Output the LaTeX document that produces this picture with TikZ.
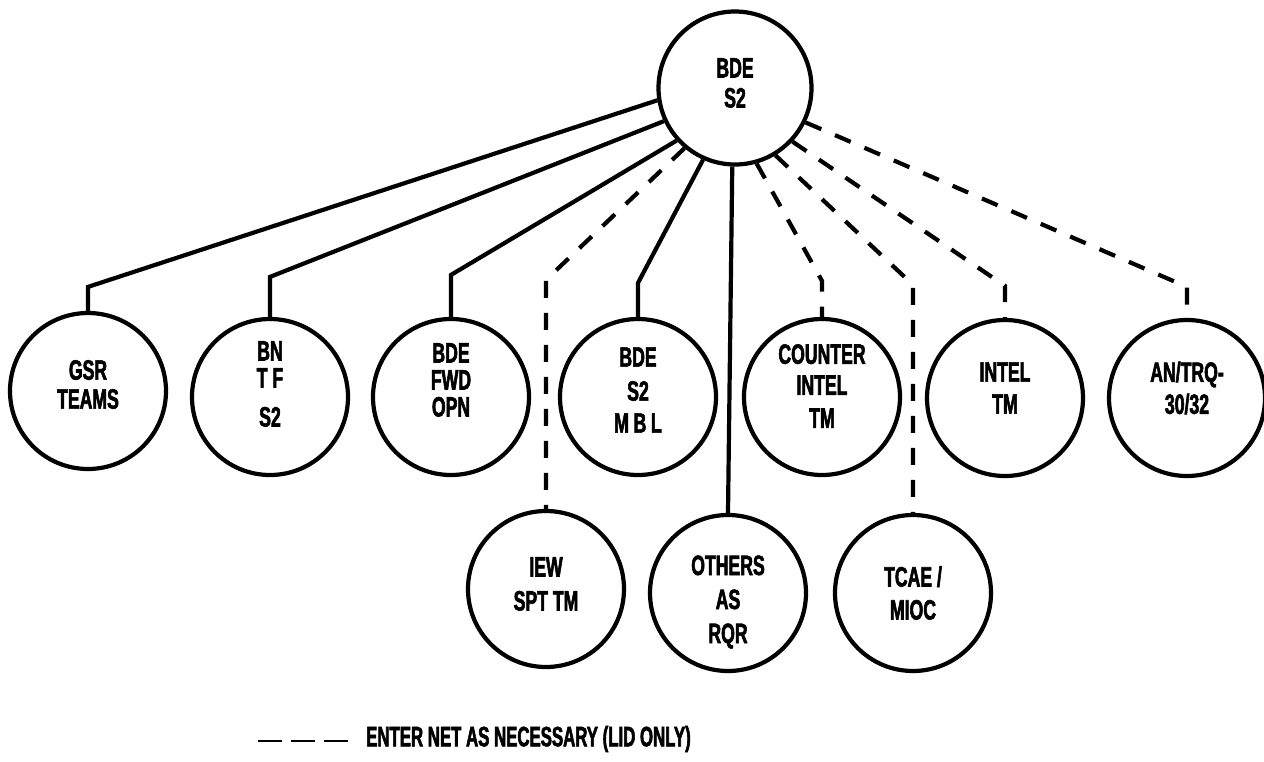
\documentclass[tikz,border=0pt]{standalone}
\usepackage{fontspec}
\newfontfamily\lblfont{Liberation Sans}[FakeStretch=0.63,BoldFeatures={FakeBold=2}]
\newfontfamily\keyfont{Liberation Sans}[FakeStretch=0.6,BoldFeatures={FakeBold=2}]
\begin{document}
\begin{tikzpicture}[x=1pt,y=-1pt,
  unit/.style={circle,draw,line width=4.2pt,minimum size=156pt,inner sep=0pt},
  hub/.style={unit,minimum size=153pt},
  lbl/.style={font=\lblfont\bfseries\fontsize{28}{32}\selectfont,align=center,inner sep=0pt},
  link/.style={line width=4.2pt},
  netlink/.style={link,dash pattern=on 17pt off 15pt},
  keyline/.style={line width=2.6pt,dash pattern=on 24pt off 9pt},
]
\useasboundingbox (0,0) rectangle (1264,761);

% controlling station
\node[hub,label={[lbl,yshift=5pt]center:{BDE\\[-2pt]S2}}] (top) at (735,88) {};

% upper row of stations
\node[unit,label={[lbl,yshift=6.5pt]center:{GSR\\[-3pt]TEAMS}}] (gsr) at (88,391) {};
\node[unit,label={[lbl,yshift=13pt]center:{BN\\[-5pt]T F\\[7pt]S2}}] (bn) at (270,397) {};
\node[unit,label={[lbl,yshift=17pt]center:{BDE\\[-5pt]FWD\\[-5pt]OPN}}] (fwd) at (451,397) {};
\node[unit,label={[lbl,yshift=7pt]center:{BDE\\[2pt]S2\\[0pt]M\,B\,L}}] (mbl) at (638,397) {};
\node[unit,label={[lbl,yshift=11pt]center:{COUNTER\\[-1pt]INTEL\\[1pt]TM}}] (ci) at (822,397) {};
\node[unit,label={[lbl,yshift=10pt]center:{INTEL\\TM}}] (intel) at (1005,398) {};
\node[unit,label={[lbl,yshift=10pt]center:{AN/TRQ-\\30/32}}] (trq) at (1187,398) {};

% lower row of stations
\node[unit,label={[lbl,yshift=5pt]center:{IEW\\[2pt]SPT TM}}] (iew) at (546,589) {};
\node[unit,label={[lbl,yshift=-9pt]center:{OTHERS\\[2pt]AS\\[2pt]RQR}}] (oth) at (728,593) {};
\node[unit,label={[lbl,yshift=0pt]center:{TCAE /\\[1pt]MIOC}}] (tcae) at (913,593) {};

% permanent net members
\draw[link] (top.189) -- ([yshift=24pt]gsr.north) -- (gsr.north);
\draw[link] (top.205) -- ([yshift=40pt]bn.north) -- (bn.north);
\draw[link] (top.222) -- ([yshift=42pt]fwd.north) -- (fwd.north);
\draw[link] (top.246) -- ([yshift=34pt]mbl.north) -- (mbl.north);
\draw[link] (top.268) -- (oth.north);

% members entering the net as necessary
\draw[netlink] (top.230) -- ([yshift=229pt]iew.north) -- (iew.north);
\draw[netlink] (top.286) -- ([yshift=36pt]ci.north) -- (ci.north);
\draw[netlink] (top.301) -- ([yshift=228pt]tcae.north) -- (tcae.north);
\draw[netlink] (top.317) -- ([yshift=32pt]intel.north) -- (intel.north);
\draw[netlink] (top.334) -- ([yshift=31pt]trq.north) -- (trq.north);

% key
\coordinate (key0) at (258,741);
\coordinate (key1) at (348,741);
\draw[keyline] (key0) -- (key1);
\node[lbl,font=\keyfont\bfseries\fontsize{28}{32}\selectfont,anchor=west] (keytext) at (366,739) {ENTER NET AS NECESSARY (LID ONLY)};
\end{tikzpicture}
\end{document}
